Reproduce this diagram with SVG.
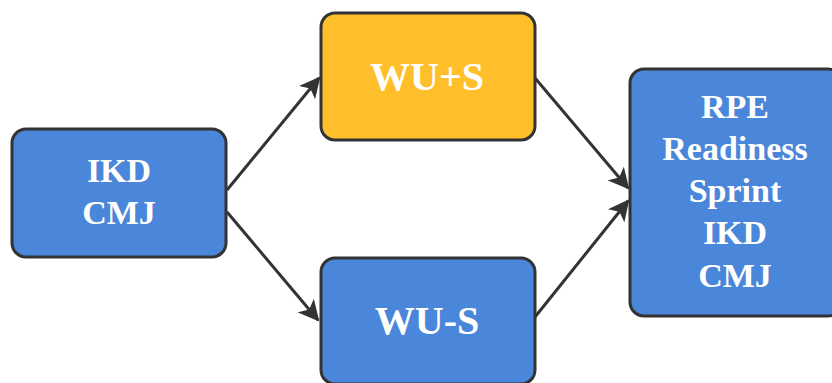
<svg xmlns="http://www.w3.org/2000/svg" width="832" height="383" viewBox="0 0 832 383">
<defs>
<style>
.box{stroke:#333;stroke-width:3}
.blue{fill:#4A86D9}
.orange{fill:#FFBF2B}
.lbl{font-family:'Liberation Serif','Times New Roman',serif;font-weight:bold;fill:#fff;text-anchor:middle}
.s33{font-size:34px}
.s41{font-size:40px}
.edge{stroke:#333;stroke-width:3;fill:none}
</style>
<marker id="ah" viewBox="0 0 10 10" refX="9" refY="5" markerWidth="7" markerHeight="7" orient="auto" markerUnits="strokeWidth">
<path d="M0,0 L10,5 L0,10 L2.5,5 z" fill="#333"/>
</marker>
</defs>
<g id="connectors">
<line class="edge" x1="227" y1="190" x2="319" y2="78" marker-end="url(#ah)"/>
<line class="edge" x1="227" y1="212" x2="318" y2="320" marker-end="url(#ah)"/>
<line class="edge" x1="535" y1="78" x2="628" y2="188" marker-end="url(#ah)"/>
<line class="edge" x1="535" y1="317" x2="628" y2="201" marker-end="url(#ah)"/>
</g>
<g id="node-ikd-cmj">
<rect class="box blue" x="12" y="129" width="214" height="128" rx="14"/>
<text class="lbl s33" x="119" y="182">IKD</text>
<text class="lbl s33" x="119" y="224">CMJ</text>
</g>
<g id="node-wu-plus-s">
<rect class="box orange" x="321" y="13" width="214" height="127" rx="14"/>
<text class="lbl s41" x="427" y="90">WU+S</text>
</g>
<g id="node-wu-minus-s">
<rect class="box blue" x="321" y="258" width="214" height="126" rx="14"/>
<text class="lbl s41" x="427" y="334">WU-S</text>
</g>
<g id="node-outcomes">
<rect class="box blue" x="630" y="69" width="212" height="247" rx="14"/>
<text class="lbl s33" x="735" y="118">RPE</text>
<text class="lbl s33" x="735" y="160">Readiness</text>
<text class="lbl s33" x="735" y="202">Sprint</text>
<text class="lbl s33" x="735" y="244">IKD</text>
<text class="lbl s33" x="735" y="287">CMJ</text>
</g>
</svg>
